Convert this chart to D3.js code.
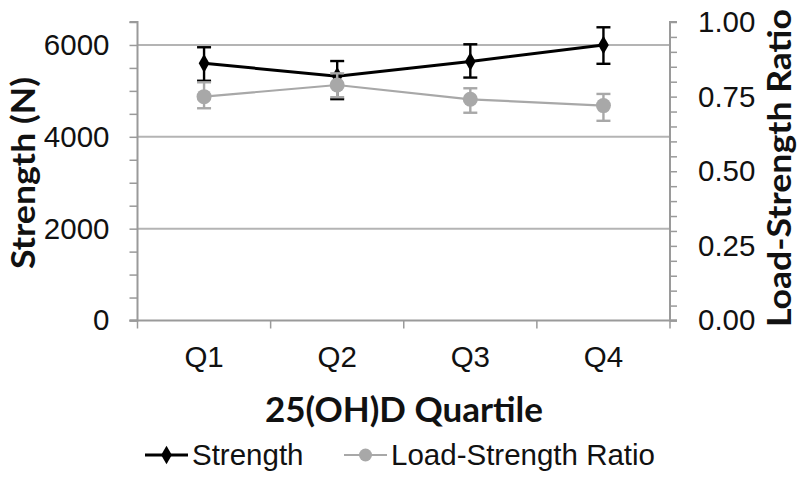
<!DOCTYPE html>
<html><head><meta charset="utf-8">
<script src="https://cdn.jsdelivr.net/npm/d3@7"></script>
<style>body{margin:0;background:#fff}svg{display:block}</style>
</head><body><svg id="c" width="800" height="478"></svg>
<script>
const categories = ["Q1","Q2","Q3","Q4"];
const strength = [5600, 5320, 5640, 6000];
const strengthLow = [5220, 4820, 5290, 5590];
const strengthHigh = [5950, 5650, 6015, 6385];
const ratio = [0.750, 0.789, 0.741, 0.720];
const ratioLow = [0.711, 0.748, 0.696, 0.669];
const ratioHigh = [0.798, 0.828, 0.778, 0.759];
const leftTicks = [0, 2000, 4000, 6000];
const rightTicks = [0, 0.25, 0.5, 0.75, 1.0];
const seriesNames = ["Strength", "Load-Strength Ratio"];

const svg = d3.select("#c");
const L = 137.5, R = 670, T = 22, B = 320.5;
const x = d3.scaleBand().domain(categories).range([L, R]);
const yL = d3.scaleLinear().domain([0, 6500]).range([B, T]);
const yR = d3.scaleLinear().domain([0, 1]).range([B, T]);
const axisCol = "#9a9a9a", gridCol = "#b4b4b4", grey = "#a8a8a8";
const tickFont = "'Liberation Sans', Arial, sans-serif";
const titleFont = "Lato, 'Open Sans', sans-serif";
const tickSize = 29.5;

// gridlines
svg.append("g").selectAll("line").data(leftTicks.filter(d => d > 0)).join("line")
  .attr("x1", L).attr("x2", R).attr("y1", d => yL(d)).attr("y2", d => yL(d))
  .attr("stroke", gridCol).attr("stroke-width", 2);

// left axis minor
const gl = svg.append("g").attr("transform", `translate(${L},0)`)
  .call(d3.axisLeft(yL).tickValues(d3.range(0, 6501, 500)).tickSize(8).tickFormat(""));
gl.selectAll("line").attr("stroke", axisCol).attr("stroke-width", 1.5);
gl.select(".domain").attr("stroke", axisCol).attr("stroke-width", 2).attr("d", `M-8,${T}H0V${B}H-8`);
const glab = svg.append("g").attr("transform", `translate(${L},0)`)
  .call(d3.axisLeft(yL).tickValues(leftTicks).tickSize(0).tickPadding(28).tickFormat(d3.format("d")));
glab.select(".domain").remove();
glab.selectAll("text").attr("font-family", tickFont).attr("font-size", tickSize).attr("fill", "#111");

// right axis
const gr = svg.append("g").attr("transform", `translate(${R},0)`)
  .call(d3.axisRight(yR).tickValues(d3.range(0, 21).map(i => i / 20)).tickSize(7).tickFormat(""));
gr.selectAll("line").attr("stroke", axisCol).attr("stroke-width", 1.5);
gr.select(".domain").attr("stroke", axisCol).attr("stroke-width", 2).attr("d", `M7,${T}H0V${B}H7`);
const grlab = svg.append("g").attr("transform", `translate(${R},0)`)
  .call(d3.axisRight(yR).tickValues(rightTicks).tickSize(0).tickPadding(28).tickFormat(d3.format(".2f")));
grlab.select(".domain").remove();
grlab.selectAll("text").attr("font-family", tickFont).attr("font-size", tickSize).attr("fill", "#111");

// x axis
const bounds = [L].concat(categories.map(c => x(c) + x.bandwidth()));
const gx = svg.append("g");
gx.append("line").attr("x1", L - 8).attr("x2", R + 7).attr("y1", B).attr("y2", B)
  .attr("stroke", axisCol).attr("stroke-width", 2);
gx.selectAll("line.t").data(bounds).join("line").attr("class", "t")
  .attr("x1", d => d).attr("x2", d => d).attr("y1", B).attr("y2", B + 8)
  .attr("stroke", axisCol).attr("stroke-width", 1.5);
gx.selectAll("text").data(categories).join("text")
  .attr("x", d => x(d) + x.bandwidth() / 2).attr("y", 367)
  .attr("text-anchor", "middle").attr("font-family", tickFont).attr("font-size", tickSize).attr("fill", "#111")
  .text(d => d);

// titles
svg.append("text").attr("transform", "translate(35,173) rotate(-90)").attr("text-anchor", "middle")
  .attr("font-family", titleFont).attr("font-weight", "bold").attr("font-size", 33).attr("fill", "#111")
  .attr("textLength", 192).attr("lengthAdjust", "spacingAndGlyphs")
  .text("Strength (N)");
svg.append("text").attr("transform", "translate(791,168) rotate(-90)").attr("text-anchor", "middle")
  .attr("font-family", titleFont).attr("font-weight", "bold").attr("font-size", 33).attr("fill", "#111")
  .attr("textLength", 318).attr("lengthAdjust", "spacingAndGlyphs")
  .text("Load-Strength Ratio");
svg.append("text").attr("x", 404).attr("y", 422).attr("text-anchor", "middle")
  .attr("font-family", titleFont).attr("font-weight", "bold").attr("font-size", 35).attr("fill", "#111")
  .text("25(OH)D Quartile");

const cx = d => x(d) + x.bandwidth() / 2;
const diamond = d3.symbol().type(d3.symbolDiamond).size(100);

function drawSeries(vals, lo, hi, y, col, lw, marker) {
  const g = svg.append("g");
  const data = categories.map((c, i) => ({c, v: vals[i], lo: lo[i], hi: hi[i]}));
  g.append("path").datum(data).attr("fill", "none").attr("stroke", col).attr("stroke-width", lw)
    .attr("d", d3.line().x(d => cx(d.c)).y(d => y(d.v)));
  const eb = g.selectAll("g.e").data(data).join("g").attr("class", "e");
  eb.append("line").attr("x1", d => cx(d.c)).attr("x2", d => cx(d.c))
    .attr("y1", d => y(d.lo)).attr("y2", d => y(d.hi)).attr("stroke", col).attr("stroke-width", 2.4);
  [ "lo", "hi" ].forEach(k => eb.append("line").attr("x1", d => cx(d.c) - 7).attr("x2", d => cx(d.c) + 7)
    .attr("y1", d => y(d[k])).attr("y2", d => y(d[k])).attr("stroke", col).attr("stroke-width", 2.4));
  if (marker === "diamond") {
    g.selectAll("path.m").data(data).join("path").attr("class", "m")
      .attr("transform", d => `translate(${cx(d.c)},${y(d.v)})`).attr("d", diamond).attr("fill", col);
  } else {
    g.selectAll("circle").data(data).join("circle").attr("cx", d => cx(d.c)).attr("cy", d => y(d.v))
      .attr("r", 7.5).attr("fill", col);
  }
}
drawSeries(strength, strengthLow, strengthHigh, yL, "#000", 3, "diamond");
drawSeries(ratio, ratioLow, ratioHigh, yR, grey, 2.2, "circle");

// legend
const lg = svg.append("g");
const legItems = [
  {name: seriesNames[0], col: "#000", x0: 145, marker: "diamond", lw: 3},
  {name: seriesNames[1], col: grey, x0: 344, marker: "circle", lw: 2.2}
];
const ly = 455;
legItems.forEach(it => {
  lg.append("line").attr("x1", it.x0).attr("x2", it.x0 + 43).attr("y1", ly).attr("y2", ly)
    .attr("stroke", it.col).attr("stroke-width", it.lw);
  if (it.marker === "diamond") lg.append("path").attr("transform", `translate(${it.x0 + 21.5},${ly})`)
    .attr("d", diamond).attr("fill", it.col);
  else lg.append("circle").attr("cx", it.x0 + 21.5).attr("cy", ly).attr("r", 6.5).attr("fill", it.col);
  lg.append("text").attr("x", it.x0 + 47).attr("y", ly + 10).attr("font-family", tickFont)
    .attr("font-size", tickSize).attr("fill", "#111").text(it.name);
});
</script></body></html>
